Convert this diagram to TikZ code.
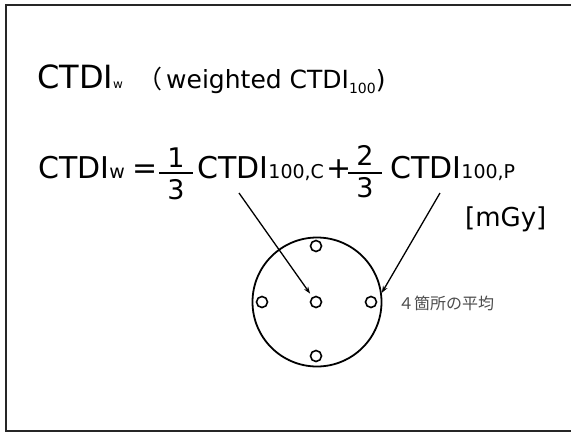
\documentclass[tikz,border=0pt]{standalone}
\usepackage{fontspec}
\setmainfont{DejaVu Sans}
\newfontfamily\jp{Noto Sans CJK JP}
\usetikzlibrary{calc, arrows.meta}

\begin{document}
\begin{tikzpicture}[
    x=1pt,
    y=-1pt,
    term/.style={anchor=base west, inner sep=0pt, font=\fontsize{30}{36}\selectfont},
    digit/.style={inner sep=0pt, font=\fontsize{27}{32}\selectfont},
    hole/.style={circle, draw, line width=1.6pt, minimum size=11pt, inner sep=0pt},
    note/.style={anchor=west, inner sep=0pt, text=black!70, font=\jp\fontsize{16}{18}\selectfont},
    >={Stealth[length=7pt, width=5pt]}
]
    \useasboundingbox (0,0) rectangle (571,432);
    \draw[line width=1.8pt, black!85] (571,5) -- (6,5) -- (6,431) -- (571,431);

    % title line
    \node[term, font=\fontsize{32}{38}\selectfont] (ttlname) at (37,88) {CTDI{\fontsize{12}{14}\selectfont w}};
    \node[term, font=\fontsize{25}{30}\selectfont] (ttlnote) at (137,88)
        {{\jp （}\hspace{4pt}weighted CTDI\raisebox{-5pt}{\fontsize{14}{16}\selectfont 100})};

    % formula
    \node[term] (lhs) at (38,178) {CTDI{\fontsize{19}{22}\selectfont w}};
    \node[term] (eqs) at (132,178) {=};
    \node[digit] (num1) at (176,158) {1};
    \node[digit] (den1) at (176,190) {3};
    \draw[line width=1.4pt] (159,173) -- (193,173);
    \node[term] (ctdic) at (197,178) {CTDI{\fontsize{19}{22}\selectfont 100,C}};
    \node[term] (plus) at (326,178) {+};
    \node[digit] (num2) at (365,155) {2};
    \node[digit] (den2) at (365,188) {3};
    \draw[line width=1.4pt] (348,173) -- (382,173);
    \node[term] (ctdip) at (390,178) {CTDI{\fontsize{19}{22}\selectfont 100,P}};
    \node[term, font=\fontsize{26}{30}\selectfont] (unit) at (465,226) {[mGy]};

    % phantom with measuring holes
    \node[circle, draw, line width=1.8pt, minimum size=129pt, inner sep=0pt] (phantom) at (317,302) {};
    \node[hole] (htop) at (316,246) {};
    \node[hole] (hleft) at (262,302) {};
    \node[hole] (hcenter) at (316,302) {};
    \node[hole] (hright) at (371,302) {};
    \node[hole] (hbottom) at (316,356) {};
    \node[note] (avg) at (398,303) {４箇所の平均};

    \draw[->, line width=1.3pt, shorten >=4pt] ($(ctdic.base west)+(42,15)$) -- (hcenter);
    \draw[->, line width=1.3pt] ($(ctdip.base west)+(50,15)$) -- (phantom.8);
\end{tikzpicture}
\end{document}
